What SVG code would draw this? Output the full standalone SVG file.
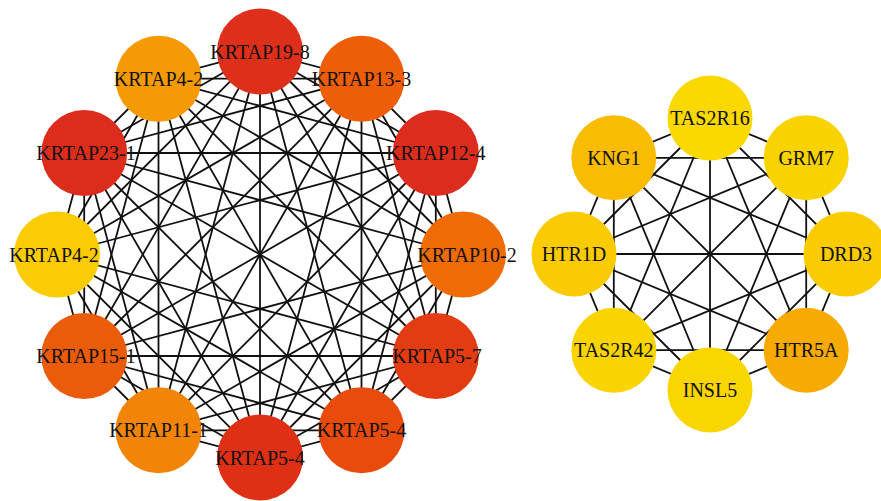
<svg xmlns="http://www.w3.org/2000/svg" width="881" height="501" viewBox="0 0 881 501">
<style>
.e line{stroke:#111;stroke-width:1.8;stroke-linecap:round}
.n text{font-family:"Liberation Serif","DejaVu Serif",serif;font-size:20px;fill:#111;text-anchor:middle}
</style>
<rect width="881" height="501" fill="#fff"/>
<g id="connectors" class="e">
<line x1="260" y1="51.5" x2="361.5" y2="78.7"/><line x1="260" y1="51.5" x2="435.8" y2="153"/><line x1="260" y1="51.5" x2="463" y2="254.5"/><line x1="260" y1="51.5" x2="435.8" y2="356"/><line x1="260" y1="51.5" x2="361.5" y2="430.3"/><line x1="260" y1="51.5" x2="260" y2="457.5"/><line x1="260" y1="51.5" x2="158.5" y2="430.3"/><line x1="260" y1="51.5" x2="84.2" y2="356"/><line x1="260" y1="51.5" x2="57" y2="254.5"/><line x1="260" y1="51.5" x2="84.2" y2="153"/><line x1="260" y1="51.5" x2="158.5" y2="78.7"/>
<line x1="361.5" y1="78.7" x2="435.8" y2="153"/><line x1="361.5" y1="78.7" x2="463" y2="254.5"/><line x1="361.5" y1="78.7" x2="435.8" y2="356"/><line x1="361.5" y1="78.7" x2="361.5" y2="430.3"/><line x1="361.5" y1="78.7" x2="260" y2="457.5"/><line x1="361.5" y1="78.7" x2="158.5" y2="430.3"/><line x1="361.5" y1="78.7" x2="84.2" y2="356"/><line x1="361.5" y1="78.7" x2="57" y2="254.5"/><line x1="361.5" y1="78.7" x2="84.2" y2="153"/><line x1="361.5" y1="78.7" x2="158.5" y2="78.7"/>
<line x1="435.8" y1="153" x2="463" y2="254.5"/><line x1="435.8" y1="153" x2="435.8" y2="356"/><line x1="435.8" y1="153" x2="361.5" y2="430.3"/><line x1="435.8" y1="153" x2="260" y2="457.5"/><line x1="435.8" y1="153" x2="158.5" y2="430.3"/><line x1="435.8" y1="153" x2="84.2" y2="356"/><line x1="435.8" y1="153" x2="57" y2="254.5"/><line x1="435.8" y1="153" x2="84.2" y2="153"/><line x1="435.8" y1="153" x2="158.5" y2="78.7"/>
<line x1="463" y1="254.5" x2="435.8" y2="356"/><line x1="463" y1="254.5" x2="361.5" y2="430.3"/><line x1="463" y1="254.5" x2="260" y2="457.5"/><line x1="463" y1="254.5" x2="158.5" y2="430.3"/><line x1="463" y1="254.5" x2="84.2" y2="356"/><line x1="463" y1="254.5" x2="84.2" y2="153"/><line x1="463" y1="254.5" x2="158.5" y2="78.7"/>
<line x1="435.8" y1="356" x2="361.5" y2="430.3"/><line x1="435.8" y1="356" x2="260" y2="457.5"/><line x1="435.8" y1="356" x2="158.5" y2="430.3"/><line x1="435.8" y1="356" x2="84.2" y2="356"/><line x1="435.8" y1="356" x2="57" y2="254.5"/><line x1="435.8" y1="356" x2="84.2" y2="153"/><line x1="435.8" y1="356" x2="158.5" y2="78.7"/>
<line x1="361.5" y1="430.3" x2="260" y2="457.5"/><line x1="361.5" y1="430.3" x2="158.5" y2="430.3"/><line x1="361.5" y1="430.3" x2="84.2" y2="356"/><line x1="361.5" y1="430.3" x2="57" y2="254.5"/><line x1="361.5" y1="430.3" x2="84.2" y2="153"/><line x1="361.5" y1="430.3" x2="158.5" y2="78.7"/>
<line x1="260" y1="457.5" x2="158.5" y2="430.3"/><line x1="260" y1="457.5" x2="84.2" y2="356"/><line x1="260" y1="457.5" x2="57" y2="254.5"/><line x1="260" y1="457.5" x2="84.2" y2="153"/><line x1="260" y1="457.5" x2="158.5" y2="78.7"/>
<line x1="158.5" y1="430.3" x2="84.2" y2="356"/><line x1="158.5" y1="430.3" x2="57" y2="254.5"/><line x1="158.5" y1="430.3" x2="84.2" y2="153"/><line x1="158.5" y1="430.3" x2="158.5" y2="78.7"/>
<line x1="84.2" y1="356" x2="57" y2="254.5"/><line x1="84.2" y1="356" x2="84.2" y2="153"/><line x1="84.2" y1="356" x2="158.5" y2="78.7"/>
<line x1="57" y1="254.5" x2="84.2" y2="153"/><line x1="57" y1="254.5" x2="158.5" y2="78.7"/>
<line x1="84.2" y1="153" x2="158.5" y2="78.7"/>
<line x1="710" y1="118" x2="806.2" y2="157.8"/><line x1="710" y1="118" x2="846" y2="254"/><line x1="710" y1="118" x2="806.2" y2="350.2"/><line x1="710" y1="118" x2="710" y2="390"/><line x1="710" y1="118" x2="613.8" y2="350.2"/><line x1="710" y1="118" x2="574" y2="254"/><line x1="710" y1="118" x2="613.8" y2="157.8"/>
<line x1="806.2" y1="157.8" x2="846" y2="254"/><line x1="806.2" y1="157.8" x2="806.2" y2="350.2"/><line x1="806.2" y1="157.8" x2="710" y2="390"/><line x1="806.2" y1="157.8" x2="613.8" y2="350.2"/><line x1="806.2" y1="157.8" x2="574" y2="254"/><line x1="806.2" y1="157.8" x2="613.8" y2="157.8"/>
<line x1="846" y1="254" x2="806.2" y2="350.2"/><line x1="846" y1="254" x2="710" y2="390"/><line x1="846" y1="254" x2="613.8" y2="350.2"/><line x1="846" y1="254" x2="574" y2="254"/><line x1="846" y1="254" x2="613.8" y2="157.8"/>
<line x1="806.2" y1="350.2" x2="710" y2="390"/><line x1="806.2" y1="350.2" x2="613.8" y2="350.2"/><line x1="806.2" y1="350.2" x2="574" y2="254"/><line x1="806.2" y1="350.2" x2="613.8" y2="157.8"/>
<line x1="710" y1="390" x2="613.8" y2="350.2"/><line x1="710" y1="390" x2="574" y2="254"/><line x1="710" y1="390" x2="613.8" y2="157.8"/>
<line x1="613.8" y1="350.2" x2="574" y2="254"/><line x1="613.8" y1="350.2" x2="613.8" y2="157.8"/>
<line x1="574" y1="254" x2="613.8" y2="157.8"/>
</g>
<g class="n">
<g id="n-krtap19-8"><circle cx="260" cy="51.5" r="43" fill="#DE2F1B"/><text x="260" y="58.5">KRTAP19-8</text></g>
<g id="n-krtap13-3"><circle cx="361.5" cy="78.7" r="43" fill="#EE5D07"/><text x="361.5" y="85.7">KRTAP13-3</text></g>
<g id="n-krtap12-4"><circle cx="435.8" cy="153" r="43" fill="#DC2C1D"/><text x="435.8" y="160">KRTAP12-4</text></g>
<g id="n-krtap10-2"><circle cx="463" cy="254.5" r="43" fill="#EE6B05"/><text x="467" y="261.5">KRTAP10-2</text></g>
<g id="n-krtap5-7"><circle cx="435.8" cy="356" r="43" fill="#E33C12"/><text x="437" y="363">KRTAP5-7</text></g>
<g id="n-krtap5-4a"><circle cx="361.5" cy="430.3" r="43" fill="#E84B0B"/><text x="361.5" y="437.3">KRTAP5-4</text></g>
<g id="n-krtap5-4b"><circle cx="260" cy="457.5" r="43" fill="#DF3015"/><text x="260" y="464.5">KRTAP5-4</text></g>
<g id="n-krtap11-1"><circle cx="158.5" cy="430.3" r="43" fill="#F28507"/><text x="158.5" y="437.3">KRTAP11-1</text></g>
<g id="n-krtap15-1"><circle cx="84.2" cy="356" r="43" fill="#EA5B0A"/><text x="86" y="363">KRTAP15-1</text></g>
<g id="n-krtap4-2a"><circle cx="57" cy="254.5" r="43" fill="#FBCB03"/><text x="54" y="261.5">KRTAP4-2</text></g>
<g id="n-krtap23-1"><circle cx="84.2" cy="153" r="43" fill="#DC2D1C"/><text x="86" y="160">KRTAP23-1</text></g>
<g id="n-krtap4-2b"><circle cx="158.5" cy="78.7" r="43" fill="#F59A05"/><text x="158.5" y="85.7">KRTAP4-2</text></g>
<g id="n-tas2r16"><circle cx="710" cy="118" r="42.5" fill="#FAD800"/><text x="710" y="125">TAS2R16</text></g>
<g id="n-grm7"><circle cx="806.2" cy="157.8" r="42.5" fill="#F9D300"/><text x="806.2" y="164.8">GRM7</text></g>
<g id="n-drd3"><circle cx="846" cy="254" r="42.5" fill="#FACC00"/><text x="846" y="261">DRD3</text></g>
<g id="n-htr5a"><circle cx="806.2" cy="350.2" r="42.5" fill="#F6AA02"/><text x="806.2" y="357.2">HTR5A</text></g>
<g id="n-insl5"><circle cx="710" cy="390" r="42.5" fill="#FAD600"/><text x="710" y="397">INSL5</text></g>
<g id="n-tas2r42"><circle cx="613.8" cy="350.2" r="42.5" fill="#FAD400"/><text x="613.8" y="357.2">TAS2R42</text></g>
<g id="n-htr1d"><circle cx="574" cy="254" r="42.5" fill="#FACB03"/><text x="574" y="261">HTR1D</text></g>
<g id="n-kng1"><circle cx="613.8" cy="157.8" r="42.5" fill="#F9BC02"/><text x="613.8" y="164.8">KNG1</text></g>
</g>
</svg>
